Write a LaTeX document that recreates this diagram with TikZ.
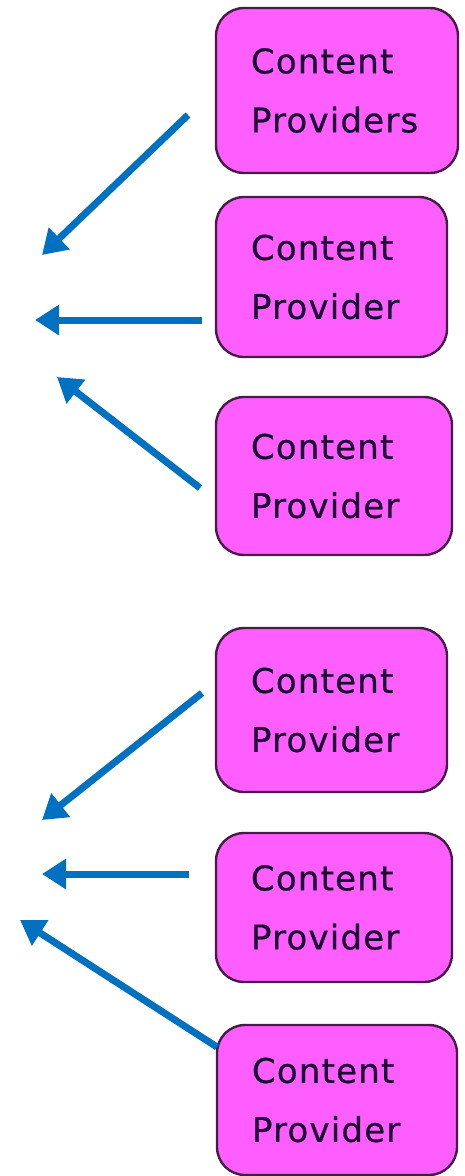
\documentclass[tikz,border=0pt]{standalone}
\usepackage{fontspec}
\newfontfamily\boxfont[LetterSpace=3.5,FakeBold=0.6]{DejaVu Sans}
\usetikzlibrary{arrows.meta}
\definecolor{boxfill}{RGB}{255,94,255}
\definecolor{boxline}{RGB}{70,28,70}
\definecolor{arrowblue}{RGB}{0,112,192}
\definecolor{textink}{RGB}{25,10,50}
\tikzset{
  provbox/.style={draw=boxline, fill=boxfill, line width=2.4pt, rounded corners=28pt,
    align=left, inner xsep=35pt, inner ysep=0pt,
    font=\boxfont\fontsize{34pt}{59pt}\selectfont, text=textink},
  flow/.style={draw=arrowblue, line width=7pt, -{Triangle[length=24pt,width=29pt]}}
}
\begin{document}
\begin{tikzpicture}[x=1pt,y=-1pt]
\useasboundingbox (0,0) rectangle (464,1176);
% boxes
\node[provbox, text width=172pt, minimum height=165pt] (b1) at (337,90.5) {Content\\Providers};
\node[provbox, text width=161pt, minimum height=160pt] (b2) at (331.5,277) {Content\\Provider};
\node[provbox, text width=166pt, minimum height=158pt] (b3) at (334,476) {Content\\Provider};
\node[provbox, text width=161pt, minimum height=164pt] (b4) at (331.5,710) {Content\\Provider};
\node[provbox, text width=166pt, minimum height=149pt] (b5) at (334,907.5) {Content\\Provider};
\node[provbox, text width=170pt, minimum height=150pt] (b6) at (337,1100) {Content\\Provider};
% arrow ends
\coordinate (t1) at (188,115);  \coordinate (h1) at (42,255);
\coordinate (t2) at (202,320);  \coordinate (h2) at (35,320);
\coordinate (t3) at (200,488);  \coordinate (h3) at (57,377);
\coordinate (t4) at (202,693);  \coordinate (h4) at (42,820);
\coordinate (t5) at (189,874);  \coordinate (h5) at (42,874);
\coordinate (t6) at (217,1047); \coordinate (h6) at (20,920);
\draw[flow] (t1) -- (h1);
\draw[flow] (t2) -- (h2);
\draw[flow] (t3) -- (h3);
\draw[flow] (t4) -- (h4);
\draw[flow] (t5) -- (h5);
\draw[flow] (t6) -- (h6);
\end{tikzpicture}
\end{document}
